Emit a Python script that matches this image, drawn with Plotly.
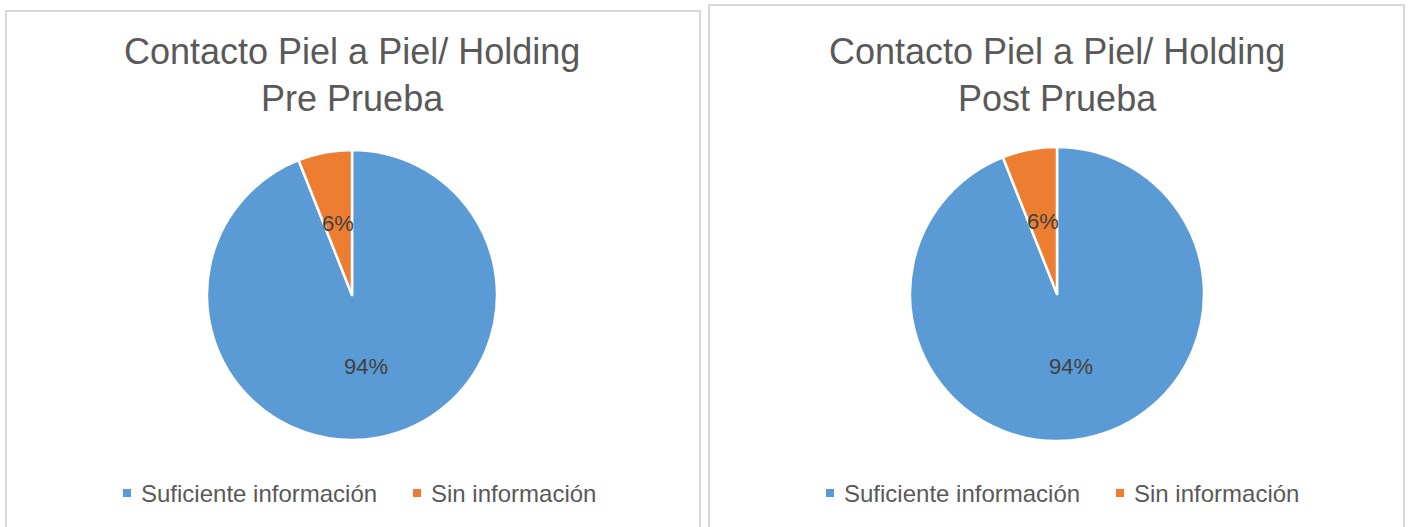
import math
import plotly.graph_objects as go

# --- data ---
categorias = ["Suficiente información", "Sin información"]
pre_prueba = [94, 6]
post_prueba = [94, 6]
titulos = ["Contacto Piel a Piel/ Holding<br>Pre Prueba",
           "Contacto Piel a Piel/ Holding<br>Post Prueba"]

# --- layout geometry (pixels) ---
W, H = 1411, 527
colores = ["#5B9BD5", "#ED7D31"]
texto_gris = "#595959"
fuente = "Liberation Sans, Arial, sans-serif"

# pie centres / radii and legend key positions in pixels
pies = [
    dict(cx=352, cy=295, r=145, valores=pre_prueba, titulo=titulos[0],
         claves_x=[127, 417], ly=493),
    dict(cx=1057, cy=294, r=147, valores=post_prueba, titulo=titulos[1],
         claves_x=[830, 1120], ly=493),
]

fig = go.Figure()
annotations = []
shapes = []

for p in pies:
    dom_x = [(p["cx"] - p["r"]) / W, (p["cx"] + p["r"]) / W]
    dom_y = [1 - (p["cy"] + p["r"]) / H, 1 - (p["cy"] - p["r"]) / H]
    fig.add_trace(go.Pie(
        labels=categorias,
        values=p["valores"],
        sort=False,
        direction="clockwise",
        rotation=0,
        domain=dict(x=dom_x, y=dom_y),
        marker=dict(colors=colores, line=dict(color="white", width=2.5)),
        textinfo="none",
        showlegend=False,
    ))

    # percentage labels placed on each slice bisector at half radius
    total = sum(p["valores"])
    acumulado = 0
    for v in p["valores"]:
        medio = (acumulado + v / 2) / total * 2 * math.pi
        acumulado += v
        px = p["cx"] + 0.5 * p["r"] * math.sin(medio)
        py = p["cy"] - 0.5 * p["r"] * math.cos(medio)
        annotations.append(dict(
            x=px / W, y=1 - py / H, xref="paper", yref="paper",
            text=f"{round(v / total * 100)}%", showarrow=False,
            font=dict(family=fuente, size=22, color="#404040"),
            xanchor="center", yanchor="middle",
        ))

    # chart title
    annotations.append(dict(
        x=p["cx"] / W, y=1 - 75 / H, xref="paper", yref="paper",
        text=p["titulo"], showarrow=False,
        font=dict(family=fuente, size=36, color=texto_gris),
        xanchor="center", yanchor="middle",
    ))

    # legend: small colour key + label for each category
    for cat, col, kx in zip(categorias, colores, p["claves_x"]):
        shapes.append(dict(
            type="rect", xref="paper", yref="paper",
            x0=(kx - 4) / W, x1=(kx + 4) / W,
            y0=1 - (p["ly"] + 4) / H, y1=1 - (p["ly"] - 4) / H,
            line=dict(width=0), fillcolor=col,
        ))
        annotations.append(dict(
            x=(kx + 12) / W, y=1 - p["ly"] / H, xref="paper", yref="paper",
            text=cat, showarrow=False,
            font=dict(family=fuente, size=24, color=texto_gris),
            xanchor="left", yanchor="middle",
        ))

# chart-area frames around each pie
shapes += [
    dict(type="rect", xref="paper", yref="paper",
         x0=6 / W, x1=700 / W, y0=-0.1, y1=1 - 11 / H,
         line=dict(color="#D9D9D9", width=2), fillcolor="rgba(0,0,0,0)"),
    dict(type="rect", xref="paper", yref="paper",
         x0=709 / W, x1=1404 / W, y0=-0.1, y1=1 - 5 / H,
         line=dict(color="#D9D9D9", width=2), fillcolor="rgba(0,0,0,0)"),
]

fig.update_layout(
    width=W, height=H,
    margin=dict(l=0, r=0, t=0, b=0),
    paper_bgcolor="white", plot_bgcolor="white",
    annotations=annotations,
    shapes=shapes,
    showlegend=False,
)

fig.write_html("out.html")
